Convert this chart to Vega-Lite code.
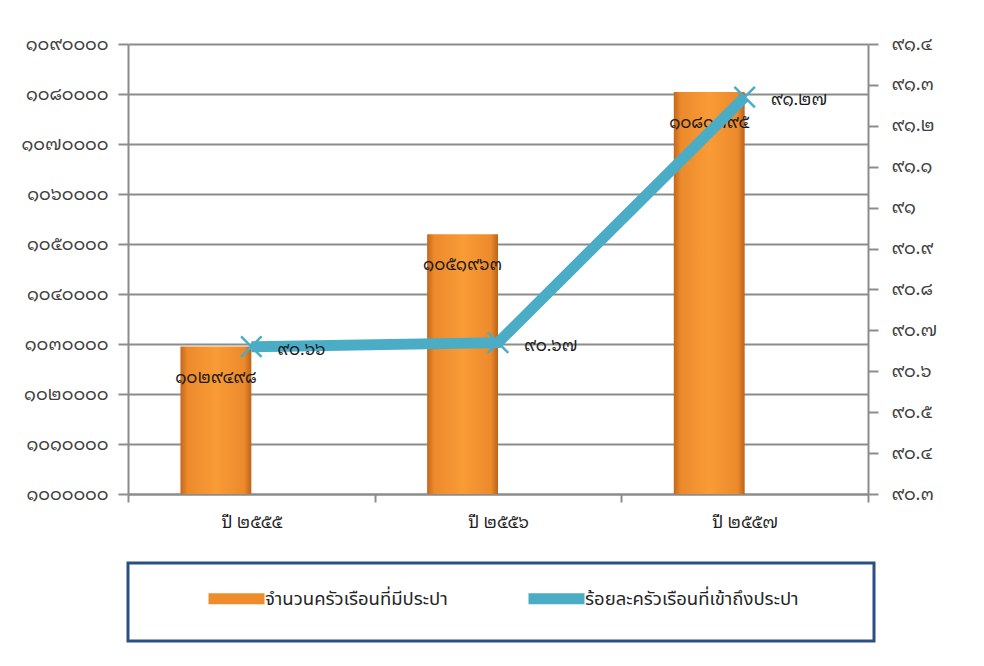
{
  "$schema": "https://vega.github.io/schema/vega-lite/v6.json",
  "width": 740,
  "height": 450,
  "autosize": {"type": "none"},
  "padding": {"left": 128, "top": 44, "right": 116, "bottom": 172},
  "background": "white",
  "datasets": {
    "hh": [
      {"year": "ปี ๒๕๕๕", "series": "จำนวนครัวเรือนที่มีประปา", "value": 1029498, "label": "๑๐๒๙๔๙๘"},
      {"year": "ปี ๒๕๕๖", "series": "จำนวนครัวเรือนที่มีประปา", "value": 1051963, "label": "๑๐๕๑๙๖๓"},
      {"year": "ปี ๒๕๕๗", "series": "จำนวนครัวเรือนที่มีประปา", "value": 1080395, "label": "๑๐๘๐๓๙๕"}
    ],
    "pct": [
      {"year": "ปี ๒๕๕๕", "series": "ร้อยละครัวเรือนที่เข้าถึงประปา", "value": 90.66, "label": "๙๐.๖๖"},
      {"year": "ปี ๒๕๕๖", "series": "ร้อยละครัวเรือนที่เข้าถึงประปา", "value": 90.67, "label": "๙๐.๖๗"},
      {"year": "ปี ๒๕๕๗", "series": "ร้อยละครัวเรือนที่เข้าถึงประปา", "value": 91.27, "label": "๙๑.๒๗"}
    ]
  },
  "config": {
    "font": "Noto Sans Thai Looped, Noto Sans Thai, Noto Sans",
    "view": {"stroke": null},
    "axis": {
      "labelFont": "Noto Sans Thai Looped, Noto Sans Thai, Noto Sans",
      "labelFontSize": 18,
      "labelColor": "#404040",
      "domainColor": "#8C8C8C",
      "domainWidth": 2,
      "tickColor": "#8C8C8C",
      "tickWidth": 2,
      "gridColor": "#8C8C8C",
      "gridWidth": 2,
      "title": null
    },
    "legend": {"labelFont": "Noto Sans Thai, Noto Sans Thai Looped, Noto Sans", "strokeWidth": 3}
  },
  "resolve": {"scale": {"y": "independent"}},
  "layer": [
    {
      "data": {"name": "hh"},
      "encoding": {
        "x": {
          "field": "year", "type": "nominal", "sort": null,
          "scale": {"paddingInner": 0, "paddingOuter": 0},
          "axis": {"orient": "bottom", "labelAngle": 0, "tickBand": "extent", "tickSize": 8, "labelPadding": 12, "labelFontSize": 17, "labelColor": "#1F1F1F", "grid": false}
        },
        "xOffset": {
          "field": "series", "type": "nominal",
          "scale": {"domain": ["จำนวนครัวเรือนที่มีประปา", "ร้อยละครัวเรือนที่เข้าถึงประปา"], "paddingInner": 0, "paddingOuter": 0.74}
        },
        "y": {
          "field": "value", "type": "quantitative",
          "scale": {"domain": [1000000, 1090000], "nice": false, "zero": false},
          "axis": {
            "orient": "left",
            "values": [1000000, 1010000, 1020000, 1030000, 1040000, 1050000, 1060000, 1070000, 1080000, 1090000],
            "format": "d",
            "grid": true,
            "tickSize": 10,
            "labelPadding": 10,
            "labelExpr": "join(split(join(split(join(split(join(split(join(split(join(split(join(split(join(split(join(split(join(split(datum.label,'0'),'๐'),'1'),'๑'),'2'),'๒'),'3'),'๓'),'4'),'๔'),'5'),'๕'),'6'),'๖'),'7'),'๗'),'8'),'๘'),'9'),'๙')"
          }
        }
      },
      "layer": [
        {
          "mark": {
            "type": "bar",
            "strokeWidth": 0,
            "fill": {
              "gradient": "linear", "x1": 0, "y1": 0, "x2": 1, "y2": 0,
              "stops": [
                {"offset": 0, "color": "#C4671B"},
                {"offset": 0.1, "color": "#EC8A2C"},
                {"offset": 0.5, "color": "#F99B36"},
                {"offset": 0.9, "color": "#EC8A2C"},
                {"offset": 1, "color": "#BD6219"}
              ]
            }
          },
          "encoding": {"y2": {"datum": 1000000}}
        },
        {
          "mark": {"type": "text", "baseline": "middle", "align": "center", "dy": 31, "fontSize": 17, "color": "#1A1A1A"},
          "encoding": {"text": {"field": "label"}}
        }
      ]
    },
    {
      "data": {"name": "pct"},
      "encoding": {
        "x": {"field": "year", "type": "nominal", "sort": null},
        "y": {
          "field": "value", "type": "quantitative",
          "scale": {"domain": [90.3, 91.4], "nice": false, "zero": false},
          "axis": {
            "orient": "right",
            "values": [90.3, 90.4, 90.5, 90.6, 90.7, 90.8, 90.9, 91.0, 91.1, 91.2, 91.3, 91.4],
            "format": ".1~f",
            "grid": false,
            "tickSize": 10,
            "labelPadding": 13,
            "labelExpr": "join(split(join(split(join(split(join(split(join(split(join(split(join(split(join(split(join(split(join(split(datum.label,'0'),'๐'),'1'),'๑'),'2'),'๒'),'3'),'๓'),'4'),'๔'),'5'),'๕'),'6'),'๖'),'7'),'๗'),'8'),'๘'),'9'),'๙')"
          }
        }
      },
      "layer": [
        {
          "mark": {"type": "line", "strokeWidth": 11, "strokeCap": "butt"},
          "encoding": {
            "stroke": {
              "field": "series", "type": "nominal",
              "scale": {"domain": ["จำนวนครัวเรือนที่มีประปา", "ร้อยละครัวเรือนที่เข้าถึงประปา"], "range": ["#EE8C2C", "#4BACC6"]},
              "legend": {
                "title": " ",
                "titleOrient": "right",
                "titlePadding": 55,
                "orient": "bottom",
                "direction": "horizontal",
                "offset": 33,
                "padding": 20,
                "strokeColor": "#2A4F85",
                "fillColor": "white",
                "symbolType": "M-1.0,0H4.6",
                "symbolSize": 400,
                "symbolStrokeWidth": 11,
                "symbolOffset": 55,
                "labelOffset": 31,
                "columnPadding": 20,
                "labelFontSize": 18.5,
                "labelColor": "#262626",
                "labelLimit": 400
              }
            }
          }
        },
        {
          "mark": {"type": "point", "shape": "M-1,-1L1,1M-1,1L1,-1", "size": 420, "filled": false, "stroke": "#4BACC6", "strokeWidth": 2.5, "opacity": 1},
          "encoding": {}
        },
        {
          "mark": {"type": "text", "align": "left", "baseline": "middle", "dx": 26, "dy": 3, "fontSize": 17, "color": "#1A1A1A"},
          "encoding": {"text": {"field": "label"}}
        }
      ]
    }
  ]
}
